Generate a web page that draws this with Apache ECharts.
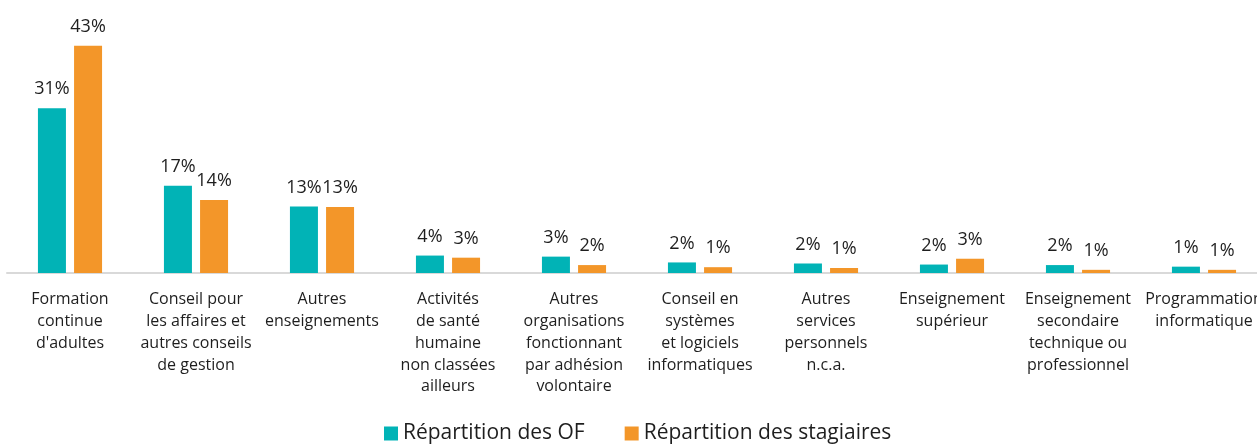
<!DOCTYPE html>
<html>
<head>
<meta charset="utf-8">
<script src="https://cdn.jsdelivr.net/npm/echarts@6/dist/echarts.min.js"></script>
<style>
html,body{margin:0;padding:0;background:#fff;overflow:hidden;width:1257px;height:445px;}
#chart{width:1270px;height:445px;}
</style>
</head>
<body>
<div id="chart"></div>
<script>
var categories = [
  "Formation\ncontinue\nd'adultes",
  "Conseil pour\nles affaires et\nautres conseils\nde gestion",
  "Autres\nenseignements",
  "Activités\nde santé\nhumaine\nnon classées\nailleurs",
  "Autres\norganisations\nfonctionnant\npar adhésion\nvolontaire",
  "Conseil en\nsystèmes\net logiciels\ninformatiques",
  "Autres\nservices\npersonnels\nn.c.a.",
  "Enseignement\nsupérieur",
  "Enseignement\nsecondaire\ntechnique ou\nprofessionnel",
  "Programmation\ninformatique"
];
var seriesNames = ["Répartition des OF", "Répartition des stagiaires"];
var valuesOF = [31.2, 16.5, 12.6, 3.3, 3.1, 2.0, 1.8, 1.6, 1.5, 1.2];
var valuesStagiaires = [43.0, 13.8, 12.5, 2.9, 1.5, 1.1, 0.95, 2.7, 0.6, 0.6];
var labelsOF = ["31%", "17%", "13%", "4%", "3%", "2%", "2%", "2%", "2%", "1%"];
var labelsStagiaires = ["43%", "14%", "13%", "3%", "2%", "1%", "1%", "3%", "1%", "1%"];

var FONT = "'Open Sans', 'Noto Sans', sans-serif";
var chart = echarts.init(document.getElementById('chart'), null, {renderer: 'canvas'});

function mkLabel(arr) {
  return {
    show: true,
    position: 'top',
    distance: 10,
    fontFamily: FONT,
    fontSize: 18,
    color: '#1e1e1e',
    formatter: function (p) { return arr[p.dataIndex]; }
  };
}

chart.setOption({
  animation: false,
  backgroundColor: '#ffffff',
  textStyle: {fontFamily: FONT},
  grid: {left: 7, width: 1260, top: 30, height: 243, containLabel: false},
  legend: {
    top: 423,
    left: 384,
    icon: 'rect',
    itemWidth: 14,
    itemHeight: 14,
    itemGap: 40,
    padding: 0,
    textStyle: {fontFamily: FONT, fontSize: 21, color: '#1e1e1e'},
    data: seriesNames
  },
  xAxis: {
    type: 'category',
    data: categories,
    axisLine: {show: true, lineStyle: {color: '#d9d9d9', width: 2}},
    axisTick: {show: false},
    axisLabel: {
      interval: 0,
      margin: 16,
      fontFamily: FONT,
      fontSize: 16,
      lineHeight: 21.7,
      color: '#1e1e1e',
      align: 'center'
    }
  },
  yAxis: {
    type: 'value',
    min: 0,
    max: 46,
    show: false,
    splitLine: {show: false}
  },
  series: [
    {
      name: seriesNames[0],
      type: 'bar',
      data: valuesOF,
      barWidth: 28,
      barGap: '29%',
      itemStyle: {color: '#01B3B6'},
      label: mkLabel(labelsOF)
    },
    {
      name: seriesNames[1],
      type: 'bar',
      data: valuesStagiaires,
      barWidth: 28,
      barGap: '29%',
      itemStyle: {color: '#F39629'},
      label: mkLabel(labelsStagiaires)
    }
  ]
});
</script>
</body>
</html>
